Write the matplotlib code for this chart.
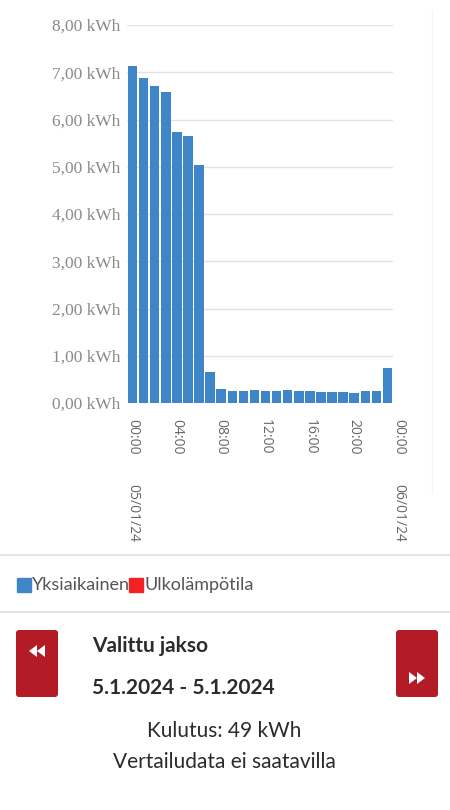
import matplotlib
matplotlib.use("Agg")
import matplotlib.pyplot as plt
from matplotlib.patches import FancyBboxPatch, Polygon, Rectangle
from matplotlib.transforms import blended_transform_factory

# ---- data ----
hours = list(range(24))
consumption = [7.14, 6.88, 6.70, 6.58, 5.74, 5.66, 5.04, 0.66,
               0.29, 0.26, 0.26, 0.28, 0.26, 0.26, 0.27, 0.26,
               0.26, 0.23, 0.23, 0.23, 0.21, 0.26, 0.26, 0.75]
y_ticks = [0, 1, 2, 3, 4, 5, 6, 7, 8]
y_labels = ["0,00 kWh", "1,00 kWh", "2,00 kWh", "3,00 kWh", "4,00 kWh",
            "5,00 kWh", "6,00 kWh", "7,00 kWh", "8,00 kWh"]
x_tick_pos = [0, 4, 8, 12, 16, 20, 24]
x_tick_labels = ["00:00", "04:00", "08:00", "12:00", "16:00", "20:00", "00:00"]
date_pos = [0, 24]
date_labels = ["05/01/24", "06/01/24"]
legend_names = ["Yksiaikainen", "Ulkolämpötila"]
legend_colors = ["#3f86c8", "#f22222"]

W, H = 450, 810
fig = plt.figure(figsize=(W / 100, H / 100), dpi=100)
fig.patch.set_facecolor("white")

# overlay axes in pixel coordinates for page decorations
ov = fig.add_axes([0, 0, 1, 1], zorder=0)
ov.set_xlim(0, W)
ov.set_ylim(H, 0)
ov.axis("off")

# ---- chart ----
ax = fig.add_axes([127 / W, 1 - 403 / H, 266 / W, 378 / H], zorder=1)
ax.set_facecolor("none")
ax.bar(hours, consumption, width=0.85, color="#3f86c8", zorder=2)
ax.set_xlim(-0.5, 23.5)
ax.set_ylim(0, 8)
ax.set_yticks(y_ticks)
ax.set_yticklabels(y_labels, fontfamily="Liberation Serif", fontsize=12.5, color="#8a8a8a")
ax.tick_params(axis="y", length=0, pad=5)
ax.set_xticks([])
ax.grid(axis="y", color="#e2e2e2", linewidth=1, zorder=0)
for s in ax.spines.values():
    s.set_visible(False)

tr = blended_transform_factory(ax.transData, ax.transAxes)
for p, lab in zip(x_tick_pos, x_tick_labels):
    ax.text(p, (403 - 419) / 378, lab, transform=tr, rotation=270, ha="center", va="top",
            fontsize=10, color="#666666", family="Open Sans", clip_on=False)
for p, lab in zip(date_pos, date_labels):
    ax.text(p, (403 - 484) / 378, lab, transform=tr, rotation=270, ha="center", va="top",
            fontsize=10, color="#666666", family="Open Sans", clip_on=False)

# ---- page decorations ----
ov.plot([432, 432], [10, 493], color="#f5f5f5", lw=1)
ov.plot([0, W], [555, 555], color="#e4e4e4", lw=1.5)
ov.plot([0, W], [612, 612], color="#e4e4e4", lw=1.5)

# legend
ov.add_patch(Rectangle((17, 578), 14, 14, color=legend_colors[0]))
ov.text(32, 585, legend_names[0], fontsize=13, family="Lato", color="#555555",
        va="center", ha="left")
ov.add_patch(Rectangle((129, 578), 14, 14, color=legend_colors[1]))
ov.text(144, 585, legend_names[1], fontsize=13, family="Lato", color="#555555",
        va="center", ha="left")

# buttons
btn_col = "#b31b27"
for bx in (16, 396):
    ov.add_patch(FancyBboxPatch((bx + 3, 633), 36, 61, boxstyle="round,pad=3",
                                fc=btn_col, ec="none"))
# left icon (rewind) at top
cy = 651
for ox in (29, 37):
    ov.add_patch(Polygon([[ox, cy], [ox + 8, cy - 6], [ox + 8, cy + 6]], closed=True,
                         fc="white", ec="none"))
# right icon (fast forward) at bottom
cy = 678
for ox in (409, 417):
    ov.add_patch(Polygon([[ox + 8, cy], [ox, cy - 6], [ox, cy + 6]], closed=True,
                         fc="white", ec="none"))

ov.text(92, 646, "Valittu jakso", fontsize=15, family="Lato", weight="bold",
        color="#2b2b2b", va="center", ha="left")
ov.text(92, 688, "5.1.2024 - 5.1.2024", fontsize=15, family="Lato", weight="bold",
        color="#2b2b2b", va="center", ha="left")
ov.text(224, 731, "Kulutus: 49 kWh", fontsize=15, family="Lato",
        color="#2b2b2b", va="center", ha="center")
ov.text(224, 762, "Vertailudata ei saatavilla", fontsize=15, family="Lato",
        color="#2b2b2b", va="center", ha="center")

fig.savefig("out.png", dpi=100, facecolor="white")
